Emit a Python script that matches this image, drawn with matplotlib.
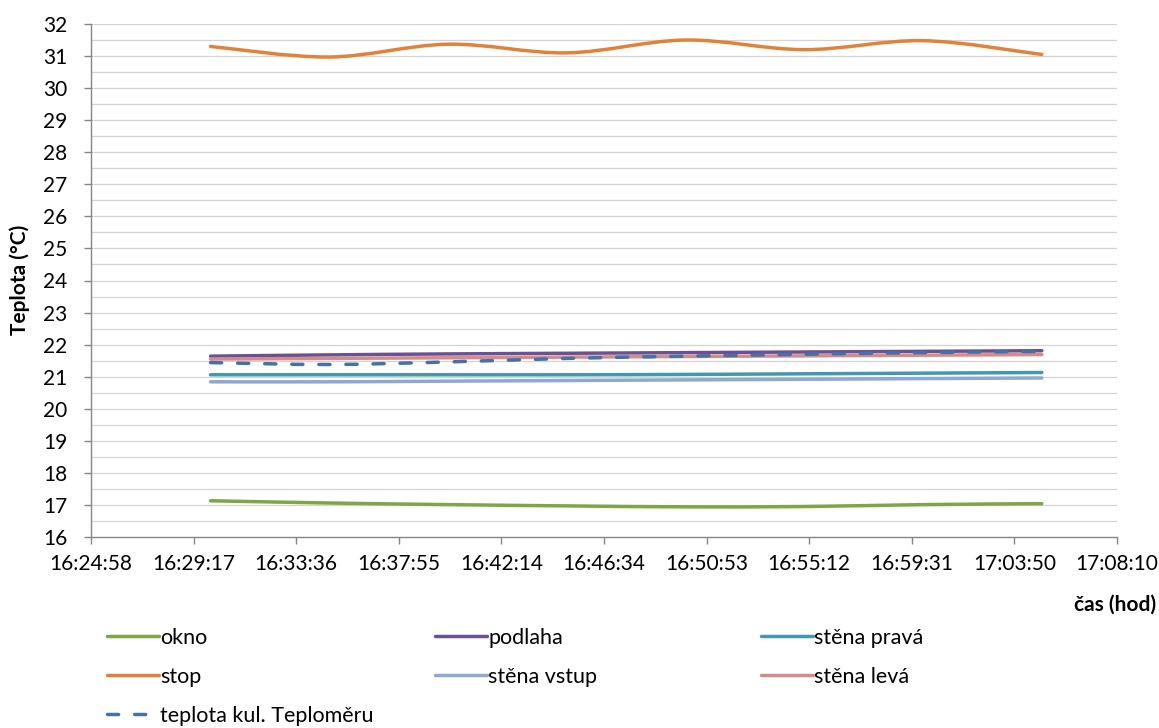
import matplotlib
matplotlib.use("Agg")
import matplotlib.pyplot as plt
from matplotlib.path import Path
from matplotlib.patches import PathPatch
from matplotlib.lines import Line2D
import numpy as np

plt.rcParams['font.family'] = ['Lato', 'DejaVu Sans']

# measurement times and temperatures (°C)
times = ["16:30:00", "16:35:00", "16:40:00", "16:45:00",
         "16:50:00", "16:55:00", "17:00:00", "17:05:00"]
okno = [17.13, 17.06, 17.01, 16.97, 16.94, 16.95, 17.01, 17.04]
podlaha = [21.64, 21.68, 21.71, 21.73, 21.75, 21.77, 21.79, 21.81]
stena_prava = [21.06, 21.06, 21.06, 21.06, 21.07, 21.09, 21.11, 21.13]
stop = [31.30, 30.97, 31.37, 31.10, 31.50, 31.20, 31.48, 31.05]
stena_vstup = [20.84, 20.84, 20.86, 20.88, 20.90, 20.92, 20.94, 20.96]
stena_leva = [21.55, 21.57, 21.59, 21.61, 21.63, 21.65, 21.67, 21.69]
teplota_kul = [21.44, 21.38, 21.46, 21.57, 21.64, 21.70, 21.75, 21.79]

tick_labels = ["16:24:58", "16:29:17", "16:33:36", "16:37:55", "16:42:14",
               "16:46:34", "16:50:53", "16:55:12", "16:59:31", "17:03:50",
               "17:08:10"]


def to_sec(s):
    h, m, sec = (int(v) for v in s.split(":"))
    return h * 3600 + m * 60 + sec


x = np.array([to_sec(t) for t in times], dtype=float)
x0 = to_sec(tick_labels[0])
x1 = to_sec(tick_labels[-1])

DASH = (0, (3.2, 4.6))
series = [
    ("okno", okno, "#7FA644", "-"),
    ("podlaha", podlaha, "#6B5193", "-"),
    ("stěna pravá", stena_prava, "#4298B0", "-"),
    ("stop", stop, "#E2823A", "-"),
    ("stěna vstup", stena_vstup, "#8FA8CF", "-"),
    ("stěna levá", stena_leva, "#D38C89", "-"),
    ("teplota kul. Teploměru", teplota_kul, "#4571A9", "--"),
]


def smooth_path(xs, ys):
    """Catmull-Rom style cubic Bezier through the points."""
    pts = np.column_stack([xs, ys])
    n = len(pts)
    verts = [pts[0]]
    codes = [Path.MOVETO]
    for i in range(n - 1):
        p0 = pts[max(i - 1, 0)]
        p1 = pts[i]
        p2 = pts[i + 1]
        p3 = pts[min(i + 2, n - 1)]
        c1 = p1 + (p2 - p0) / 6.0
        c2 = p2 - (p3 - p1) / 6.0
        verts += [c1, c2, p2]
        codes += [Path.CURVE4] * 3
    return Path(verts, codes)


W, H = 1159, 728
fig = plt.figure(figsize=(W / 100, H / 100), dpi=100)
ax = fig.add_axes([91 / W, 1 - 537 / H, (1117 - 91) / W, (537 - 24) / H])

grid_c = "#D4D4D4"
for v in np.arange(16.5, 32.01, 0.5):
    ax.axhline(v, color=grid_c, lw=0.9, zorder=0)

lw = 2.5
handles = []
for label, ys, color, ls in series:
    patch = PathPatch(smooth_path(x, ys), fill=False, edgecolor=color,
                      lw=lw, zorder=3, capstyle="round")
    if ls == "--":
        patch.set_linestyle(DASH)
    ax.add_patch(patch)
    handles.append(Line2D([], [], color=color, lw=lw,
                          linestyle=DASH if ls == "--" else "-",
                          dash_capstyle="round", solid_capstyle="round"))

ax.set_xlim(x0, x1)
ax.set_ylim(16, 32)
ax.set_xticks(np.linspace(x0, x1, len(tick_labels)))
ax.set_xticklabels(tick_labels)
ax.set_yticks(np.arange(16, 33, 1))

for s in ["top", "right"]:
    ax.spines[s].set_visible(False)
for s in ["left", "bottom"]:
    ax.spines[s].set_color("#868686")
    ax.spines[s].set_linewidth(1.0)
ax.tick_params(axis="both", direction="out", length=5, width=1.0,
               color="#868686", labelsize=15, labelcolor="black")
ax.tick_params(axis="y", pad=12)
ax.tick_params(axis="x", pad=7)

fig.text(20 / W, 1 - 280 / H, "Teplota (°C)", fontsize=15,
         fontweight="bold", rotation=90, ha="center", va="center")
fig.text(1156 / W, 1 - 605 / H, "čas (hod)", fontsize=15, fontweight="bold",
         ha="right", va="center")

labels = [s[0] for s in series]
columns = [[0, 3, 6], [1, 4], [2, 5]]
col_x = [107, 435, 761]
for cx, idx in zip(col_x, columns):
    fig.legend([handles[i] for i in idx], [labels[i] for i in idx],
               loc="upper left",
               bbox_to_anchor=(cx / W, 1 - 628 / H),
               frameon=False, fontsize=15.5, handlelength=2.4,
               handletextpad=0.08, labelspacing=0.88,
               borderaxespad=0, borderpad=0)

fig.savefig("out.png", dpi=100)
